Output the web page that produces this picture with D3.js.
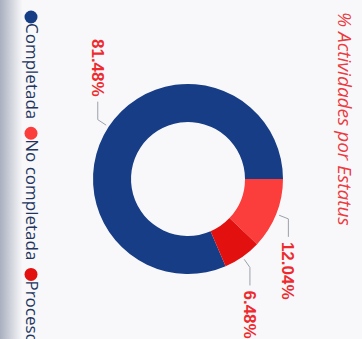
<!DOCTYPE html>
<html>
<head>
<meta charset="utf-8">
<script src="https://cdn.jsdelivr.net/npm/d3@7"></script>
<style>
  html, body { margin: 0; padding: 0; background: #f7f7f9; }
  svg { display: block; }
</style>
</head>
<body>
<svg id="chart" width="362" height="339"></svg>
<script>
'use strict';

// data
var categories = ['Completada', 'No completada', 'Proceso'];
var values = [81.48, 12.04, 6.48];
var labels = ['81.48%', '12.04%', '6.48%'];
var colors = ['#163d85', '#fb3d3b', '#e2100f'];
var title = '% Actividades por Estatus';

var W = 362, H = 339;
var svg = d3.select('#chart');

// photo-ish background: light page, greyish edge on the left
var defs = svg.append('defs');
var grad = defs.append('linearGradient').attr('id', 'edge')
	.attr('x1', 0).attr('x2', 1).attr('y1', 0).attr('y2', 0);
grad.append('stop').attr('offset', '0%').attr('stop-color', '#a9afbf');
grad.append('stop').attr('offset', '100%').attr('stop-color', '#f7f7f9');
svg.append('rect').attr('width', W).attr('height', H).attr('fill', '#f8f8fa');
svg.append('rect').attr('width', 22).attr('height', H).attr('fill', 'url(#edge)');

// the chart itself is drawn upright (339 wide, 362 tall) then turned a quarter
var g = svg.append('g')
	.attr('transform', 'translate(' + W + ',0) rotate(90)');

var cx = 179, cy = 174, rOut = 95, rIn = 57;
var total = d3.sum(values);
var start = -2 * Math.PI * values[0] / total;

var pie = d3.pie()
	.sort(null)
	.startAngle(start)
	.endAngle(start + 2 * Math.PI)
	(values);

var arc = d3.arc().innerRadius(rIn).outerRadius(rOut);

var donut = g.append('g').attr('transform', 'translate(' + cx + ',' + cy + ')');
donut.selectAll('path.slice')
	.data(pie)
	.enter()
	.append('path')
		.attr('class', 'slice')
		.attr('d', arc)
		.attr('fill', function(d, i) { return colors[i]; });

// leader lines + percent labels
function polar(r, a) { return [Math.sin(a) * r, -Math.cos(a) * r]; }
pie.forEach(function(d, i) {
	var mid = (d.startAngle + d.endAngle) / 2;
	var p0 = polar(rOut + 3, mid);
	var p1 = polar(rOut + 13, mid);
	var side = Math.sin(mid) >= 0 ? 1 : -1;
	var p2 = [p1[0] + side * 18, p1[1]];
	donut.append('path')
		.attr('d', d3.line()([p0, p1, p2]))
		.attr('fill', 'none')
		.attr('stroke', '#9ba1a9')
		.attr('stroke-width', 1);
	donut.append('text')
		.attr('x', p2[0] + side * 5)
		.attr('y', p2[1])
		.attr('dy', '0.35em')
		.attr('text-anchor', side > 0 ? 'start' : 'end')
		.attr('font-family', '"Liberation Sans", Arial, sans-serif')
		.attr('font-weight', 'bold')
		.attr('font-size', 17)
		.attr('fill', '#ee2a2e')
		.text(labels[i]);
});

// title
g.append('text')
	.attr('x', 12)
	.attr('y', 24)
	.attr('font-family', '"Open Sans", sans-serif')
	.attr('font-style', 'italic')
	.attr('font-size', 19)
	.attr('fill', '#ec3a40')
	.text(title);

// legend along the bottom
var legend = g.append('g').attr('transform', 'translate(0,331)');
var lx = 17;
categories.forEach(function(c, i) {
	legend.append('circle')
		.attr('cx', lx)
		.attr('cy', 0)
		.attr('r', 6.5)
		.attr('fill', colors[i]);
	var t = legend.append('text')
		.attr('x', lx + 6)
		.attr('y', 5)
		.attr('font-family', '"Open Sans", sans-serif')
		.attr('font-size', 17)
		.attr('fill', '#22355f')
		.text(c);
	lx += 6 + t.node().getComputedTextLength() + 14;
});
</script>
</body>
</html>
